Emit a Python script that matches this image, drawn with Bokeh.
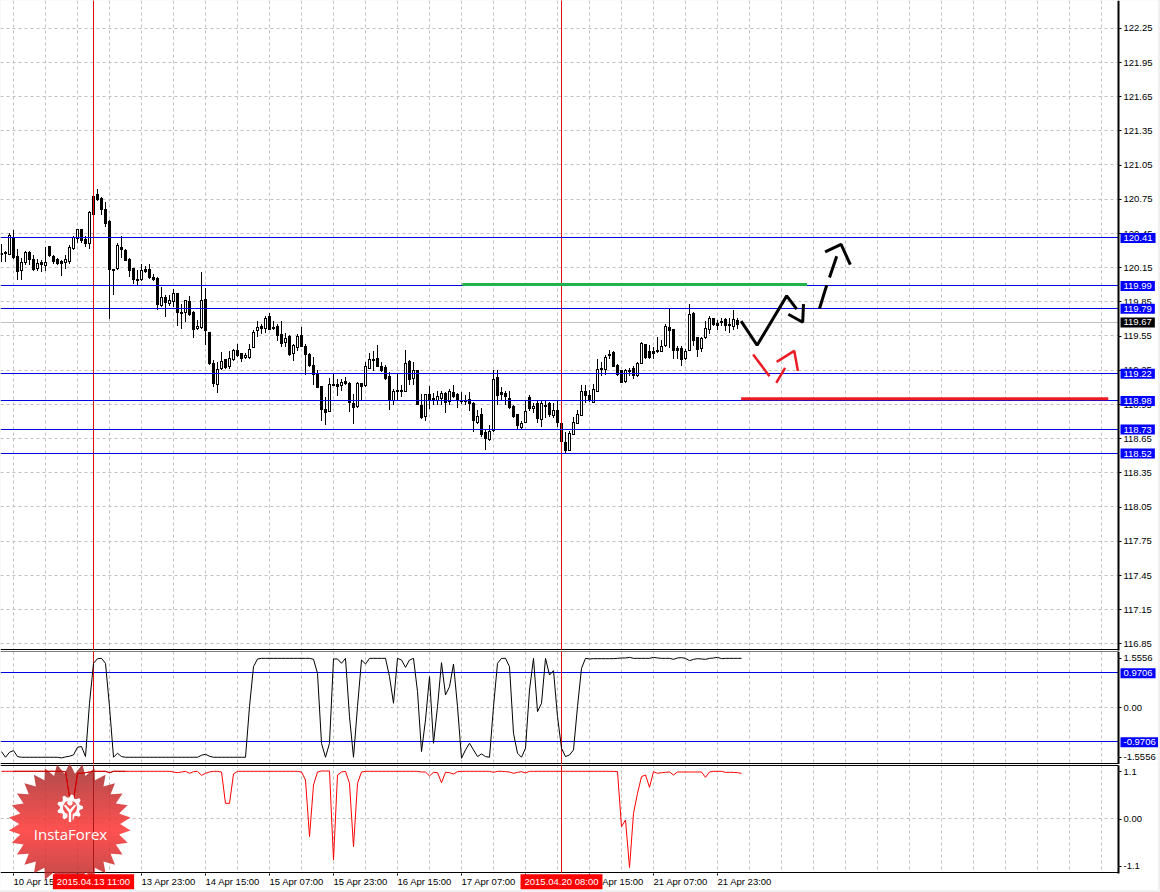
import math
import numpy as np
from bokeh.plotting import figure
from bokeh.layouts import column
from bokeh.models import (ColumnDataSource, FixedTicker, LinearAxis, Label, Range1d)
from bokeh.embed import file_html
from bokeh.resources import INLINE

highs = [120.356,120.295,120.455,120.479,120.318,120.239,120.295,120.295,120.260,120.227,
120.216,120.333,120.339,120.260,120.236,120.216,120.260,120.347,120.426,120.493,
120.493,120.426,120.645,120.789,120.844,120.771,120.730,120.567,120.143,120.368,
120.426,120.312,120.236,120.151,120.128,120.181,120.169,120.181,120.099,120.070,
119.979,119.909,119.909,119.967,119.932,119.836,119.871,119.906,119.769,119.689,
120.108,119.970,119.590,119.338,119.324,119.409,119.353,119.417,119.441,119.479,
119.406,119.406,119.479,119.602,119.683,119.660,119.725,119.754,119.681,119.654,
119.681,119.578,119.558,119.485,119.566,119.628,119.479,119.403,119.368,119.257,
119.110,119.017,119.180,119.221,119.172,119.172,119.192,119.145,119.046,119.148,
119.143,119.324,119.406,119.420,119.470,119.324,119.295,119.236,119.090,119.221,
119.119,119.426,119.338,119.324,119.257,119.040,119.046,119.110,119.052,119.069,
119.069,119.061,119.090,119.125,119.055,119.058,119.031,119.064,118.973,118.900,
118.923,118.724,118.771,119.257,119.251,119.104,119.066,119.072,118.943,118.871,
118.806,118.987,119.031,118.964,118.981,118.987,118.981,118.973,118.964,118.987,
118.798,118.710,118.718,118.841,118.900,119.125,119.125,119.075,119.134,119.353,
119.324,119.382,119.432,119.420,119.303,119.257,119.263,119.274,119.286,119.324,
119.499,119.485,119.470,119.455,119.543,119.514,119.654,119.789,119.616,119.461,
119.461,119.441,119.830,119.763,119.543,119.543,119.683,119.725,119.713,119.689,
119.710,119.710,119.707,119.777,119.713]

lows = [120.207,120.207,120.271,120.239,120.049,120.049,120.186,120.186,120.128,120.128,
120.122,120.128,120.254,120.195,120.186,120.084,120.148,120.192,120.312,120.377,
120.377,120.339,120.321,120.616,120.742,120.625,120.517,119.713,119.917,120.143,
120.245,120.216,120.078,120.017,120.005,120.043,120.108,120.064,120.040,119.792,
119.818,119.728,119.821,119.818,119.651,119.619,119.681,119.736,119.543,119.616,
119.622,119.479,119.309,119.110,119.061,119.265,119.271,119.274,119.344,119.379,
119.333,119.359,119.362,119.452,119.555,119.578,119.584,119.611,119.614,119.520,
119.464,119.461,119.385,119.338,119.426,119.461,119.221,119.292,119.128,119.104,
118.812,118.777,118.891,119.122,119.032,119.075,119.128,118.894,118.789,118.929,
118.987,119.116,119.268,119.251,119.286,119.242,119.178,118.909,118.958,118.987,
119.023,119.066,119.134,119.134,118.952,118.829,118.818,118.923,118.958,118.958,
118.958,118.882,118.958,119.017,118.926,118.964,118.952,118.900,118.718,118.789,
118.672,118.561,118.643,118.718,118.952,118.993,118.952,118.917,118.841,118.736,
118.742,118.795,118.900,118.885,118.800,118.762,118.841,118.847,118.841,118.762,
118.534,118.534,118.549,118.689,118.789,118.856,118.973,118.981,118.973,119.066,
119.207,119.221,119.359,119.286,119.210,119.145,119.151,119.207,119.186,119.204,
119.312,119.362,119.362,119.362,119.408,119.415,119.464,119.455,119.359,119.356,
119.297,119.353,119.426,119.470,119.374,119.420,119.537,119.578,119.651,119.611,
119.645,119.602,119.587,119.608,119.625]

opens = [120.283,120.289,120.274,120.420,120.257,120.131,120.201,120.289,120.225,120.145,
120.198,120.175,120.339,120.257,120.225,120.207,120.201,120.207,120.324,120.414,
120.487,120.406,120.365,120.783,120.795,120.765,120.663,120.558,120.143,120.148,
120.336,120.306,120.230,120.145,120.049,120.049,120.137,120.137,120.067,120.064,
119.824,119.891,119.839,119.859,119.926,119.760,119.763,119.856,119.763,119.622,
119.628,119.874,119.590,119.318,119.131,119.271,119.347,119.289,119.350,119.426,
119.400,119.368,119.368,119.458,119.602,119.643,119.625,119.725,119.628,119.637,
119.572,119.496,119.552,119.403,119.455,119.558,119.461,119.394,119.295,119.230,
119.110,118.909,118.894,119.128,119.134,119.122,119.160,119.137,118.967,118.938,
119.137,119.122,119.271,119.347,119.356,119.286,119.277,119.198,118.987,119.081,
119.075,119.072,119.330,119.184,119.251,118.943,118.850,119.040,119.011,118.993,
119.008,119.049,118.981,119.064,119.040,118.993,118.993,118.999,118.967,118.798,
118.865,118.710,118.648,118.724,119.187,119.058,119.052,119.011,118.938,118.865,
118.754,118.800,119.014,118.923,118.961,118.826,118.947,118.961,118.862,118.900,
118.792,118.625,118.552,118.695,118.792,118.862,119.072,119.031,118.976,119.069,
119.274,119.263,119.397,119.408,119.300,119.251,119.157,119.257,119.268,119.210,
119.318,119.482,119.420,119.415,119.432,119.420,119.473,119.631,119.614,119.444,
119.447,119.359,119.432,119.757,119.540,119.450,119.543,119.614,119.707,119.666,
119.683,119.698,119.654,119.640,119.695]

closes = [120.271,120.283,120.435,120.245,120.122,120.198,120.292,120.227,120.140,120.189,
120.181,120.204,120.260,120.210,120.192,120.192,120.222,120.336,120.420,120.493,
120.397,120.365,120.636,120.622,120.754,120.669,120.543,120.140,120.128,120.347,
120.315,120.216,120.128,120.052,120.043,120.128,120.122,120.070,120.049,119.833,
119.897,119.847,119.871,119.932,119.763,119.754,119.865,119.742,119.611,119.643,
119.865,119.605,119.318,119.139,119.265,119.335,119.277,119.362,119.432,119.385,
119.356,119.388,119.441,119.590,119.634,119.619,119.713,119.614,119.622,119.558,
119.491,119.537,119.391,119.473,119.549,119.464,119.394,119.295,119.221,119.107,
118.909,118.885,119.134,119.122,119.113,119.151,119.142,118.973,118.926,119.143,
119.113,119.286,119.353,119.342,119.286,119.257,119.184,118.987,119.072,119.075,
119.066,119.318,119.175,119.257,118.952,118.841,119.046,118.999,118.993,119.028,
119.055,118.976,119.069,119.025,118.987,118.984,118.978,118.964,118.815,118.853,
118.690,118.657,118.716,119.178,119.034,119.040,119.025,118.932,118.847,118.771,
118.792,118.897,118.923,118.941,118.829,118.961,118.941,118.865,118.906,118.798,
118.631,118.555,118.704,118.800,118.871,119.066,119.031,118.987,119.084,119.260,
119.265,119.371,119.385,119.289,119.216,119.148,119.257,119.251,119.207,119.318,
119.491,119.368,119.368,119.406,119.417,119.467,119.643,119.605,119.429,119.429,
119.353,119.423,119.748,119.517,119.438,119.531,119.625,119.713,119.657,119.651,
119.675,119.645,119.648,119.704,119.657]

indicator_a = [-1.234,-1.394,-1.253,-1.206,-1.375,
-1.394,-1.394,-1.394,-1.394,-1.394,-1.394,-1.394,-1.394,-1.394,-1.394,
-1.412,-1.384,-1.365,-1.328,-1.112,-1.093,-1.375,0.126,1.251,1.382,1.391,1.251,0.032,
-1.394,-1.281,-1.375,
-1.394,-1.394,-1.394,-1.394,-1.394,-1.394,-1.394,-1.394,-1.394,-1.394,-1.394,-1.394,-1.394,-1.394,-1.394,-1.394,-1.394,-1.394,-1.394,
-1.337,-1.309,-1.365,
-1.394,-1.394,-1.394,-1.394,-1.394,-1.394,-1.394,-1.394,-1.394,
0.032,1.157,1.373,
1.391,1.391,1.391,1.391,1.391,1.391,1.391,1.391,1.391,1.391,1.391,1.391,1.391,
1.363,0.969,-1.0,-1.394,-1.0,1.373,1.373,1.251,1.391,-0.25,-1.394,0.032,1.344,1.232,
1.391,1.391,1.391,1.391,1.391,
0.876,0.126,1.391,1.344,1.138,1.344,1.391,0.454,-1.234,-0.343,0.876,-1.0,0.032,1.269,
0.360,0.594,1.232,0.032,-1.422,-1.187,-1.0,-1.187,-1.375,-1.300,-1.375,-1.394,0.032,
1.251,1.391,1.391,1.157,-0.718,-1.281,-1.394,-1.140,0.500,1.391,-0.109,0.126,1.391,
0.922,1.044,-0.25,-1.14,-1.375,-1.328,-1.187,0.032,1.11,1.391,1.373,
1.382,1.382,1.382,1.382,1.382,1.382,
1.391,1.401,1.401,1.419,1.391,1.391,1.391,1.391,1.391,1.419,1.401,1.391,1.391,1.391,
1.363,1.401,1.410,1.391,1.326,1.363,1.382,1.373,1.363,1.391,1.401,1.419,1.382,1.391,
1.391,1.391,1.391,1.391]

indicator_b = [0.983,0.983,0.983,0.983,0.983,0.983,0.983,0.983,0.983,0.983,0.983,0.983,0.983,0.983,0.983,0.983,
0.976,0.461,0.392,0.942,0.942,0.955,0.969,0.983,0.983,0.983,0.983,0.955,
0.983,0.983,0.983,0.983,0.983,0.983,0.983,0.983,0.983,0.983,0.983,0.983,0.983,0.983,0.983,
0.969,0.955,0.969,0.983,0.942,0.976,0.983,0.901,0.942,0.969,0.983,0.983,0.969,0.323,0.323,0.928,
0.983,0.983,0.983,0.983,0.983,0.983,0.983,0.983,0.983,0.983,0.983,0.983,0.983,0.983,0.983,0.983,
0.969,0.804,-0.364,0.701,0.969,0.990,0.990,0.990,-0.845,0.908,0.969,0.983,0.736,-0.570,0.736,0.969,
0.983,0.983,0.983,0.983,0.983,0.983,0.983,0.983,0.983,
0.983,0.983,0.983,0.983,0.983,0.969,0.969,0.887,0.962,0.955,0.749,0.962,0.955,0.928,0.976,
0.983,0.983,0.983,0.983,0.983,0.983,0.983,0.983,
0.962,0.983,0.983,0.976,0.969,0.942,0.962,0.976,0.949,
0.983,0.983,0.983,0.983,0.983,0.983,0.983,0.983,0.983,0.983,0.983,
0.983,0.983,0.983,0.983,0.983,0.983,0.983,0.983,0.983,0.983,0.983,
0.976,-0.158,-0.020,-1.003,0.117,0.529,0.873,0.908,0.653,0.976,0.942,0.955,0.962,0.969,0.908,
0.969,0.969,0.969,0.969,0.969,0.969,0.969,0.859,0.969,0.983,0.983,0.983,0.962,0.962,0.962,0.955,0.942]

price_ticks = [122.25,121.95,121.65,121.35,121.05,120.75,120.45,120.15,119.85,119.55,119.25,118.95,
               118.65,118.35,118.05,117.75,117.45,117.15,116.85]
price_labels = ["122.25","121.95","121.65","121.35","121.05","120.75","120.45","120.15","119.85","119.55",
                "119.25","118.95","118.65","118.35","118.05","117.75","117.45","117.15","116.85"]
levels = [120.41, 119.99, 119.79, 119.22, 118.98, 118.73, 118.52]
bid_level = 119.67
osc_levels = [0.9706, -0.9706]
osc_level_labels = ["0.9706", "-0.9706"]

time_bars = [3,19,35,51,67,83,99,115,131,147,163,179]
time_labels = ["10 Apr 15:00","13 Apr 07:00","13 Apr 23:00","14 Apr 15:00","15 Apr 07:00","15 Apr 23:00",
               "16 Apr 15:00","17 Apr 07:00","17 Apr 23:00","20 Apr 15:00","21 Apr 07:00","21 Apr 23:00"]
marked_bars = [23, 140]
marked_labels = ["2015.04.13 11:00", "2015.04.20 08:00"]

green_x = [115.2, 201.4]; green_y = [120.003, 120.003]
red_x = [184.9, 276.7]; red_y = [119.001, 119.001]
black_paths = [
    ([184.9,188.9,196.3,198.8],[119.681,119.470,119.903,119.786]),
    ([196.7,200.3,200.5],[119.742,119.672,119.830]),
    ([204.5,206.3],[119.792,119.996]),
    ([207.0,208.8],[120.064,120.251]),
    ([205.9,209.9,212.2],[120.289,120.354,120.178]),
]
red_paths = [
    ([187.9,192.0],[119.389,119.198]),
    ([193.7,195.9],[119.139,119.271]),
    ([193.8,198.2,199.1],[119.324,119.420,119.245]),
]

FONT = "Liberation Sans"
FS = "9.5px"
GRID = "#c0c0c0"
BLUE = "#0000e0"
X0 = -0.25         # left edge of the frame
AX = 279.25        # bar position of the price axis
X1 = 289.25        # the frame runs under the axis labels, so annotations out there are not clipped
grid_bars = list(range(3, 279, 8))
PX = 0.125         # half a pixel in bar units
NUDGE = 0.5        # Bokeh paints half a pixel off its nominal screen coordinates


class Pane:
    def __init__(self, height, yr, ticks, labels, grid_ticks, row_top, row_bottom):
        self.h, self.yr = height, yr
        self.p = figure(frame_width=1158, frame_height=height, x_range=Range1d(X0, X1), y_range=Range1d(*yr),
                        output_backend="svg", toolbar_location=None, min_border_left=0, min_border_right=0,
                        min_border_top=0, min_border_bottom=0, x_axis_location=None, y_axis_location=None,
                        outline_line_color=None, background_fill_color="white", border_fill_color="white")
        self.p.xgrid.visible = False
        self.p.ygrid.visible = False
        self.k = height / (yr[1] - yr[0])
        self.y_top = self.at_row(row_top)
        self.y_bot = self.at_row(row_bottom + 1)
        ax = LinearAxis(ticker=FixedTicker(ticks=ticks), major_label_overrides=dict(zip(ticks, labels)),
                        major_tick_in=0, major_tick_out=3, minor_tick_line_color=None,
                        major_label_standoff=2, major_label_text_font=FONT, major_label_text_font_size=FS,
                        major_label_text_color="black", axis_line_width=2, axis_line_color="black",
                        fixed_location=AX, bounds=(self.y_bot, self.y_top))
        self.p.add_layout(ax, "right")
        self.p.vspan(x=grid_bars, line_color=GRID, line_width=1, line_dash="3 3")
        self.p.hspan(y=[self.at_row(self.row_of(t) + 0.5) for t in grid_ticks], line_color=GRID, line_width=1, line_dash="3 3")
        # keep the dashed rules inside the pane
        self.box(AX, X1, yr[0], yr[1], "white")
        self.box(X0, X1, yr[0], self.y_bot, "white")
        self.box(X0, X1, self.y_top, yr[1], "white")

    def at_row(self, row):
        return self.yr[1] - (row - NUDGE) / self.k

    def row_real(self, v):
        return (self.yr[1] - v) * self.k + NUDGE

    def row_of(self, v):
        return math.floor(self.row_real(v) - 0.3)

    def box(self, left, right, bottom, top, color, alpha=1.0):
        self.p.quad(left=[left], right=[right], bottom=[bottom], top=[top], fill_color=color, fill_alpha=alpha, line_color=None)

    def hlines(self, values, color):
        for v in values:
            r = self.row_of(v)
            self.box(X0, AX, self.at_row(r + 1), self.at_row(r), color)

    def vlines(self, bars_, color):
        for b in bars_:
            self.box(b - PX, b + PX, self.y_bot, self.y_top, color)

    def edge(self, row):
        self.box(X0, AX, self.at_row(row + 1), self.at_row(row), "black")

    def tag(self, y, text, bg="#0000ff"):
        self.p.add_layout(Label(x=1120, x_units="screen", y=y, y_units="data", text=text, text_color="white",
                                text_font=FONT, text_font_size=FS, text_baseline="middle", text_align="left",
                                background_fill_color=bg, padding=(3, 2)))


# ---- price pane: canvas rows 0..650
a = Pane(651, (122.4939 - 651 / 114, 122.4939), price_ticks, price_labels, price_ticks, 0, 649)
p1 = a.p
a.edge(649)
a.hlines([bid_level], GRID)
# candles are kept on whole pixel rows so that they stay as sharp as the reference
def row_top_of(v):
    return round(a.row_real(v))
bar_x = list(range(len(closes)))
tops = [row_top_of(max(o, c)) for o, c in zip(opens, closes)]
bots = [max(row_top_of(min(o, c)), t + 1) for o, c, t in zip(opens, closes, tops)]
src = ColumnDataSource(dict(x=bar_x,
                            wt=[a.at_row(row_top_of(v)) for v in highs],
                            wb=[a.at_row(row_top_of(v) + 1) for v in lows],
                            bt=[a.at_row(t) for t in tops],
                            bb=[a.at_row(b + 1) for b in bots]))
p1.vbar(x="x", top="wt", bottom="wb", width=2 * PX, source=src, fill_color="black", line_color=None)
p1.vbar(x="x", top="bt", bottom="bb", width=6 * PX, source=src, fill_color="black", line_color=None)
hollow = [i for i, (o, c) in enumerate(zip(opens, closes)) if c > o and bots[i] - tops[i] >= 2]
src_h = ColumnDataSource(dict(x=[bar_x[i] for i in hollow],
                              bt=[a.at_row(tops[i] + 1) for i in hollow],
                              bb=[a.at_row(bots[i]) for i in hollow]))
p1.vbar(x="x", top="bt", bottom="bb", width=2 * PX, source=src_h, fill_color="white", line_color=None)
a.vlines(marked_bars, "#e01010")
a.hlines(levels, BLUE)
p1.line(green_x, green_y, line_color="#22b14c", line_width=3)
p1.line(red_x, red_y, line_color="#ed1c24", line_width=3)
for xs, ys in black_paths:
    p1.line(xs, ys, line_color="black", line_width=3)
for xs, ys in red_paths:
    p1.line(xs, ys, line_color="#ed1c24", line_width=2.5)
for lv in levels:
    a.tag(lv, f"{lv:.2f}")
a.tag(bid_level, f"{bid_level:.2f}", bg="black")

# ---- oscillator pane: page rows 651..763
b = Pane(113, (-1.5977, 1.5837), [1.39, 0, -1.39], ["1.5556", "0.00", "-1.5556"], [0], 0, 112)
p2 = b.p
b.edge(0)
b.edge(112)
b.hlines(osc_levels, BLUE)
b.vlines(marked_bars, "#e01010")
p2.line(list(range(len(indicator_a))), indicator_a, line_color="black", line_width=1)
for lv, t in zip(osc_levels, osc_level_labels):
    b.tag(lv, t)

# ---- second oscillator pane: page rows 764..889
c = Pane(126, (-1.4742, 1.1237), [0.97, 0, -0.97], ["1.1", "0.00", "-1.1"], [0], 1, 108)
p3 = c.p
c.edge(1)
c.edge(108)
p3.add_layout(LinearAxis(ticker=FixedTicker(ticks=time_bars), major_label_overrides={t: "" for t in time_bars},
                         major_tick_in=0, major_tick_out=2, minor_tick_line_color=None, axis_line_color=None,
                         fixed_location=c.y_bot), "below")

# ---- watermark, drawn through the pane's own scales
CY = 764  # canvas top of the third pane in page pixels


def X(px):
    return (px - 1.5) / 4


def Y(row):
    return c.at_row(row - CY)


def clip(poly, y0, y1):
    def cut(pts, keep, isect):
        out = []
        for i in range(len(pts)):
            p_, q_ = pts[i], pts[(i + 1) % len(pts)]
            ka, kb = keep(p_), keep(q_)
            if ka:
                out.append(p_)
            if ka != kb:
                out.append(isect(p_, q_))
        return out
    def at(level):
        return lambda p_, q_: (p_[0] + (level - p_[1]) / (q_[1] - p_[1]) * (q_[0] - p_[0]), level)
    pts = cut(poly, lambda q: q[1] >= y0, at(y0))
    if pts:
        pts = cut(pts, lambda q: q[1] <= y1, at(y1))
    return pts


def poly(pts, color, alpha=1.0):
    p3.patch([X(q[0]) for q in pts], [Y(q[1]) for q in pts], fill_color=color, fill_alpha=alpha, line_color=None)


cx, cy = 69.7, 824.0
n = 30
star = []
for k in range(2 * n):
    r = 61 if k % 2 == 0 else 50.5
    ang = np.pi * k / n - np.pi / 2
    star.append((cx + r * np.cos(ang), cy + r * np.sin(ang)))
ALPHA = 0.82
for y0 in range(764, 886, 3):
    t = (y0 + 1.5 - 763) / 122.0
    if t < 0.55:
        f = t / 0.55
        tgt = (172 + 83 * f, 76 + 4 * f, 76 + 4 * f)
    else:
        f = (t - 0.55) / 0.45
        tgt = (255 - 65 * f, 80 - 5 * f, 80 - 5 * f)
    col = tuple(int(min(255, max(0, (v - (1 - ALPHA) * 255) / ALPHA))) for v in tgt)
    seg = clip(star, y0, y0 + 3)
    if len(seg) > 2:
        poly(seg, "#%02x%02x%02x" % col, ALPHA)

c.vlines([marked_bars[0]], "#a81818")
c.vlines([marked_bars[1]], "#e01010")
p3.line(list(range(len(indicator_b))), indicator_b, line_color="#ff0000", line_width=1)
p3.line(list(range(3, 32)), indicator_b[3:32], line_color="#c00000", line_width=1)

HOLE = "#f24f4f"
gx, gy = 70.0, 807.5
gear = []
teeth = 9
for k in range(teeth * 4):
    ang = 2 * np.pi * k / (teeth * 4) - np.pi / 2 + np.pi / (teeth * 4)
    r = 13.0 if k % 4 in (0, 1) else 10.0
    gear.append((gx + r * np.cos(ang), gy + r * np.sin(ang)))
poly(gear, "white")
poly([(gx + 7 * np.cos(t), gy + 7 * np.sin(t)) for t in np.linspace(0, 2 * np.pi, 24, endpoint=False)], HOLE)
poly([(gx - 2.6, 812), (gx + 2.6, 812), (gx + 2.6, 822), (gx - 2.6, 822)], HOLE)
poly([(gx - 1.2, 811), (gx + 1.2, 811), (gx + 1.2, 822), (gx - 1.2, 822)], "white")
poly([(gx - 6.2, 805.5), (gx - 4.6, 804.5), (gx, 809.5), (gx + 4.6, 804.5), (gx + 6.2, 805.5), (gx + 1.2, 812.5), (gx - 1.2, 812.5)], "white")
poly([(gx + 2.8 * np.cos(t), 802.8 + 2.8 * np.sin(t)) for t in np.linspace(0, 2 * np.pi, 16, endpoint=False)], "white")
p3.add_layout(Label(x=70, x_units="screen", y=890 - 833, y_units="screen", text="InstaForex", text_color="white",
                    text_font="Open Sans", text_font_size="15px", text_align="center", text_baseline="middle"))

for bar, t in zip(time_bars, time_labels):
    p3.add_layout(Label(x=bar, x_units="data", y=8.7, y_units="screen", text=t, text_color="black", text_font=FONT,
                        text_font_size=FS, text_align="left", text_baseline="middle"))
for bar, t in zip(marked_bars, marked_labels):
    p3.add_layout(Label(x=bar, x_units="data", y=8.7, y_units="screen", text=t, text_color="white", text_font=FONT,
                        text_font_size=FS, text_align="center", text_baseline="middle",
                        background_fill_color="#ff0000", padding=(4, 2)))

layout = column(p1, p2, p3, spacing=0)
html = file_html(layout, INLINE)
html = html.replace("</head>", "<style>html,body{margin:0;padding:0;background:#f0f0f0;}</style></head>")
open("out.html", "w").write(html)
